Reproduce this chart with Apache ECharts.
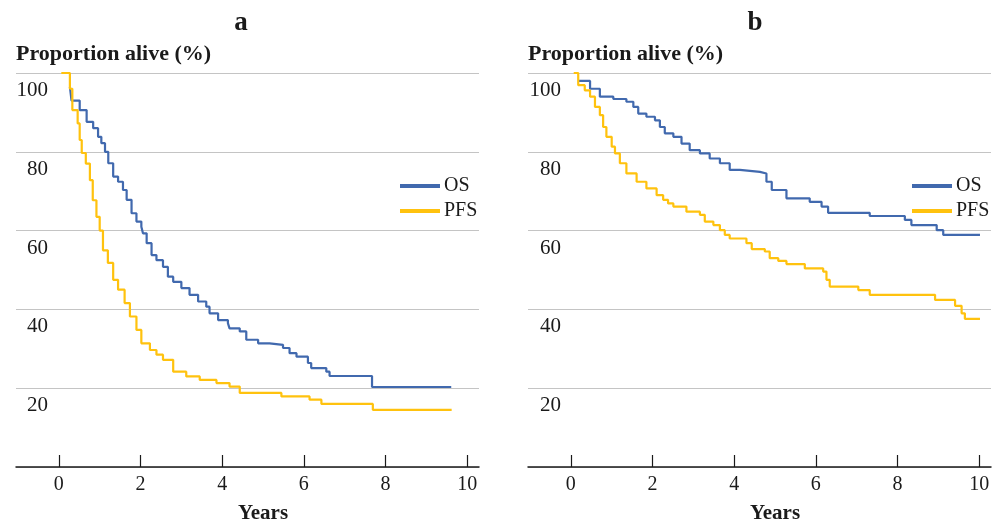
<!DOCTYPE html>
<html>
<head>
<meta charset="utf-8">
<script src="https://cdn.jsdelivr.net/npm/echarts@6/dist/echarts.min.js"></script>
<style>
  html, body { margin: 0; padding: 0; background: #fff; }
  #chart { width: 1003px; height: 524px; }
</style>
</head>
<body>
<div id="chart"></div>
<script>
  // panel a - OS (years, % alive)
  const osA_t = [0.27, 0.31, 0.51, 0.68, 0.84, 0.96, 1.04, 1.13, 1.21, 1.33, 1.45, 1.57, 1.66, 1.78, 1.9, 2.02, 2.06, 2.15, 2.27, 2.39, 2.55, 2.67, 2.8, 3.0, 3.2, 3.41, 3.61, 3.69, 3.9, 4.14, 4.18, 4.43, 4.59, 4.88, 5.16, 5.49, 5.65, 5.82, 6.1, 6.18, 6.55, 6.63, 7.67, 9.61]
  const osA_v = [96.5, 93, 90.6, 87.6, 86, 83.8, 82.2, 80, 77.1, 73.7, 72.4, 70.3, 67.8, 64.4, 62.3, 61, 59.3, 56.8, 53.8, 52.5, 50.8, 48.3, 47, 45.4, 43.7, 42, 40.7, 39, 37.3, 36.5, 35.2, 34.4, 32.3, 31.4, 31, 30.2, 28.9, 28, 26.4, 25.1, 24.2, 23.1, 20.3, 20.3]
  // panel a - PFS
  const pfsA_t = [0.06, 0.27, 0.33, 0.46, 0.51, 0.56, 0.66, 0.76, 0.83, 0.92, 1.0, 1.08, 1.2, 1.33, 1.45, 1.61, 1.74, 1.9, 2.02, 2.23, 2.39, 2.55, 2.8, 3.12, 3.45, 3.86, 4.18, 4.43, 5.45, 6.14, 6.43, 7.69, 9.62]
  const pfsA_v = [100, 96, 90.6, 87.2, 83, 79.7, 77, 72.8, 67.7, 63.5, 60, 55, 51.8, 47.5, 45, 41.6, 38.2, 34.8, 31.4, 29.7, 28.5, 27.2, 24.2, 23, 22.1, 21.3, 20.4, 18.8, 17.9, 17.1, 16, 14.5, 14.5]
  // panel b - OS
  const osB_t = [0.2, 0.47, 0.71, 1.04, 1.36, 1.53, 1.65, 1.85, 2.06, 2.18, 2.3, 2.51, 2.71, 2.91, 3.16, 3.4, 3.65, 3.89, 4.14, 4.63, 4.79, 4.92, 5.28, 5.85, 6.14, 6.3, 7.32, 8.18, 8.34, 8.96, 9.12, 10.02]
  const osB_v = [98, 96, 94, 93.4, 92.7, 91.4, 89.7, 88.9, 88, 86.3, 84.7, 83.8, 82.1, 80.4, 79.6, 78.3, 77.1, 75.4, 74.9, 74.5, 72.4, 70.3, 68.2, 67.3, 66.1, 64.5, 63.7, 62.7, 61.4, 60.1, 58.9, 58.9]
  // panel b - PFS
  const pfsB_t = [0.07, 0.18, 0.34, 0.47, 0.59, 0.71, 0.79, 0.87, 1.0, 1.08, 1.2, 1.36, 1.61, 1.85, 2.1, 2.26, 2.38, 2.51, 2.83, 3.16, 3.28, 3.49, 3.65, 3.77, 3.89, 4.3, 4.43, 4.75, 4.87, 5.08, 5.28, 5.73, 6.18, 6.26, 6.34, 7.04, 7.32, 8.92, 9.41, 9.57, 9.65, 10.02]
  const pfsB_v = [100, 96.9, 95.6, 94, 91.4, 89.3, 86.3, 83.8, 81.3, 79.6, 77.1, 74.5, 72.4, 70.7, 69, 67.8, 66.9, 66.1, 64.8, 64, 62.3, 61.4, 60.1, 58.9, 58, 56.8, 55.3, 54.7, 53, 52.3, 51.5, 50.4, 49.6, 47.5, 45.8, 44.9, 43.7, 42.4, 40.9, 39, 37.6, 37.6]

  const xTicks = [0, 2, 4, 6, 8, 10]
  const seriesNames = ['OS', 'PFS']

  const FONT = "'Liberation Serif', 'Times New Roman', serif"
  const INK = '#1a1a1a'
  const BLUE = '#4169ae'
  const GOLD = '#ffc20e'

  const zip = (t, v) => t.map((x, i) => [x, v[i]])

  const chart = echarts.init(document.getElementById('chart'))

  // 两个面板共用的坐标轴配置
  const makeX = (gridIndex) => ({
    type: 'value',
    gridIndex,
    min: -1.05,
    max: 10.29,
    splitLine: { show: false },
    axisLine: { show: true, onZero: false, lineStyle: { color: INK, width: 1.5 } },
    axisTick: { show: true, inside: true, length: 12, customValues: xTicks, lineStyle: { color: INK, width: 1.2 } },
    axisLabel: { customValues: xTicks, margin: 8, fontFamily: FONT, fontSize: 20, color: INK }
  })

  const makeY = (gridIndex, margin) => ({
    type: 'value',
    gridIndex,
    min: 0,
    max: 100,
    interval: 20,
    name: 'Proportion alive (%)',
    nameLocation: 'end',
    nameGap: 8,
    nameTextStyle: { align: 'left', fontFamily: FONT, fontSize: 22, fontWeight: 'bold', color: INK },
    axisLine: { show: false, onZero: false },
    axisTick: { show: false },
    splitLine: { lineStyle: { color: '#c4c4c4', width: 1.2 } },
    axisLabel: {
      inside: true,
      margin,
      align: 'right',
      verticalAlign: 'top',
      padding: [7, 0, 0, 0],
      showMinLabel: false,
      fontFamily: FONT,
      fontSize: 21,
      color: INK
    }
  })

  const makeLegend = (left) => ({
    left,
    top: 171,
    orient: 'vertical',
    icon: 'rect',
    itemWidth: 40,
    itemHeight: 4,
    itemGap: 5,
    data: seriesNames,
    textStyle: { fontFamily: FONT, fontSize: 20, color: INK, lineHeight: 20, padding: [0, 0, 0, -1] },
    selectedMode: false
  })

  const makeLine = (name, data, xi, color) => ({
    name,
    type: 'line',
    step: 'end',
    xAxisIndex: xi,
    yAxisIndex: xi,
    data,
    symbol: 'none',
    color,
    lineStyle: { color, width: 2.2 }
  })

  const option = {
    backgroundColor: '#fff',
    animation: false,
    grid: [
      { left: 16, top: 73, width: 463, height: 394 },
      { left: 528, top: 73, width: 463, height: 394 }
    ],
    xAxis: [makeX(0), makeX(1)],
    yAxis: [makeY(0, 32), makeY(1, 33)],
    legend: [makeLegend(395), makeLegend(907)],
    graphic: [
      { type: 'text', x: 241, y: 23, style: { text: 'a', font: "bold 27px " + FONT, fill: INK, align: 'center', verticalAlign: 'middle' } },
      { type: 'text', x: 755, y: 23, style: { text: 'b', font: "bold 27px " + FONT, fill: INK, align: 'center', verticalAlign: 'middle' } },
      { type: 'text', x: 263, y: 503, style: { text: 'Years', font: "bold 21px " + FONT, fill: INK, align: 'center' } },
      { type: 'text', x: 775, y: 503, style: { text: 'Years', font: "bold 21px " + FONT, fill: INK, align: 'center' } }
    ],
    series: [
      makeLine('OS', zip(osA_t, osA_v), 0, BLUE),
      makeLine('PFS', zip(pfsA_t, pfsA_v), 0, GOLD),
      makeLine('OS', zip(osB_t, osB_v), 1, BLUE),
      makeLine('PFS', zip(pfsB_t, pfsB_v), 1, GOLD)
    ]
  }

  chart.setOption(option)
</script>
</body>
</html>
